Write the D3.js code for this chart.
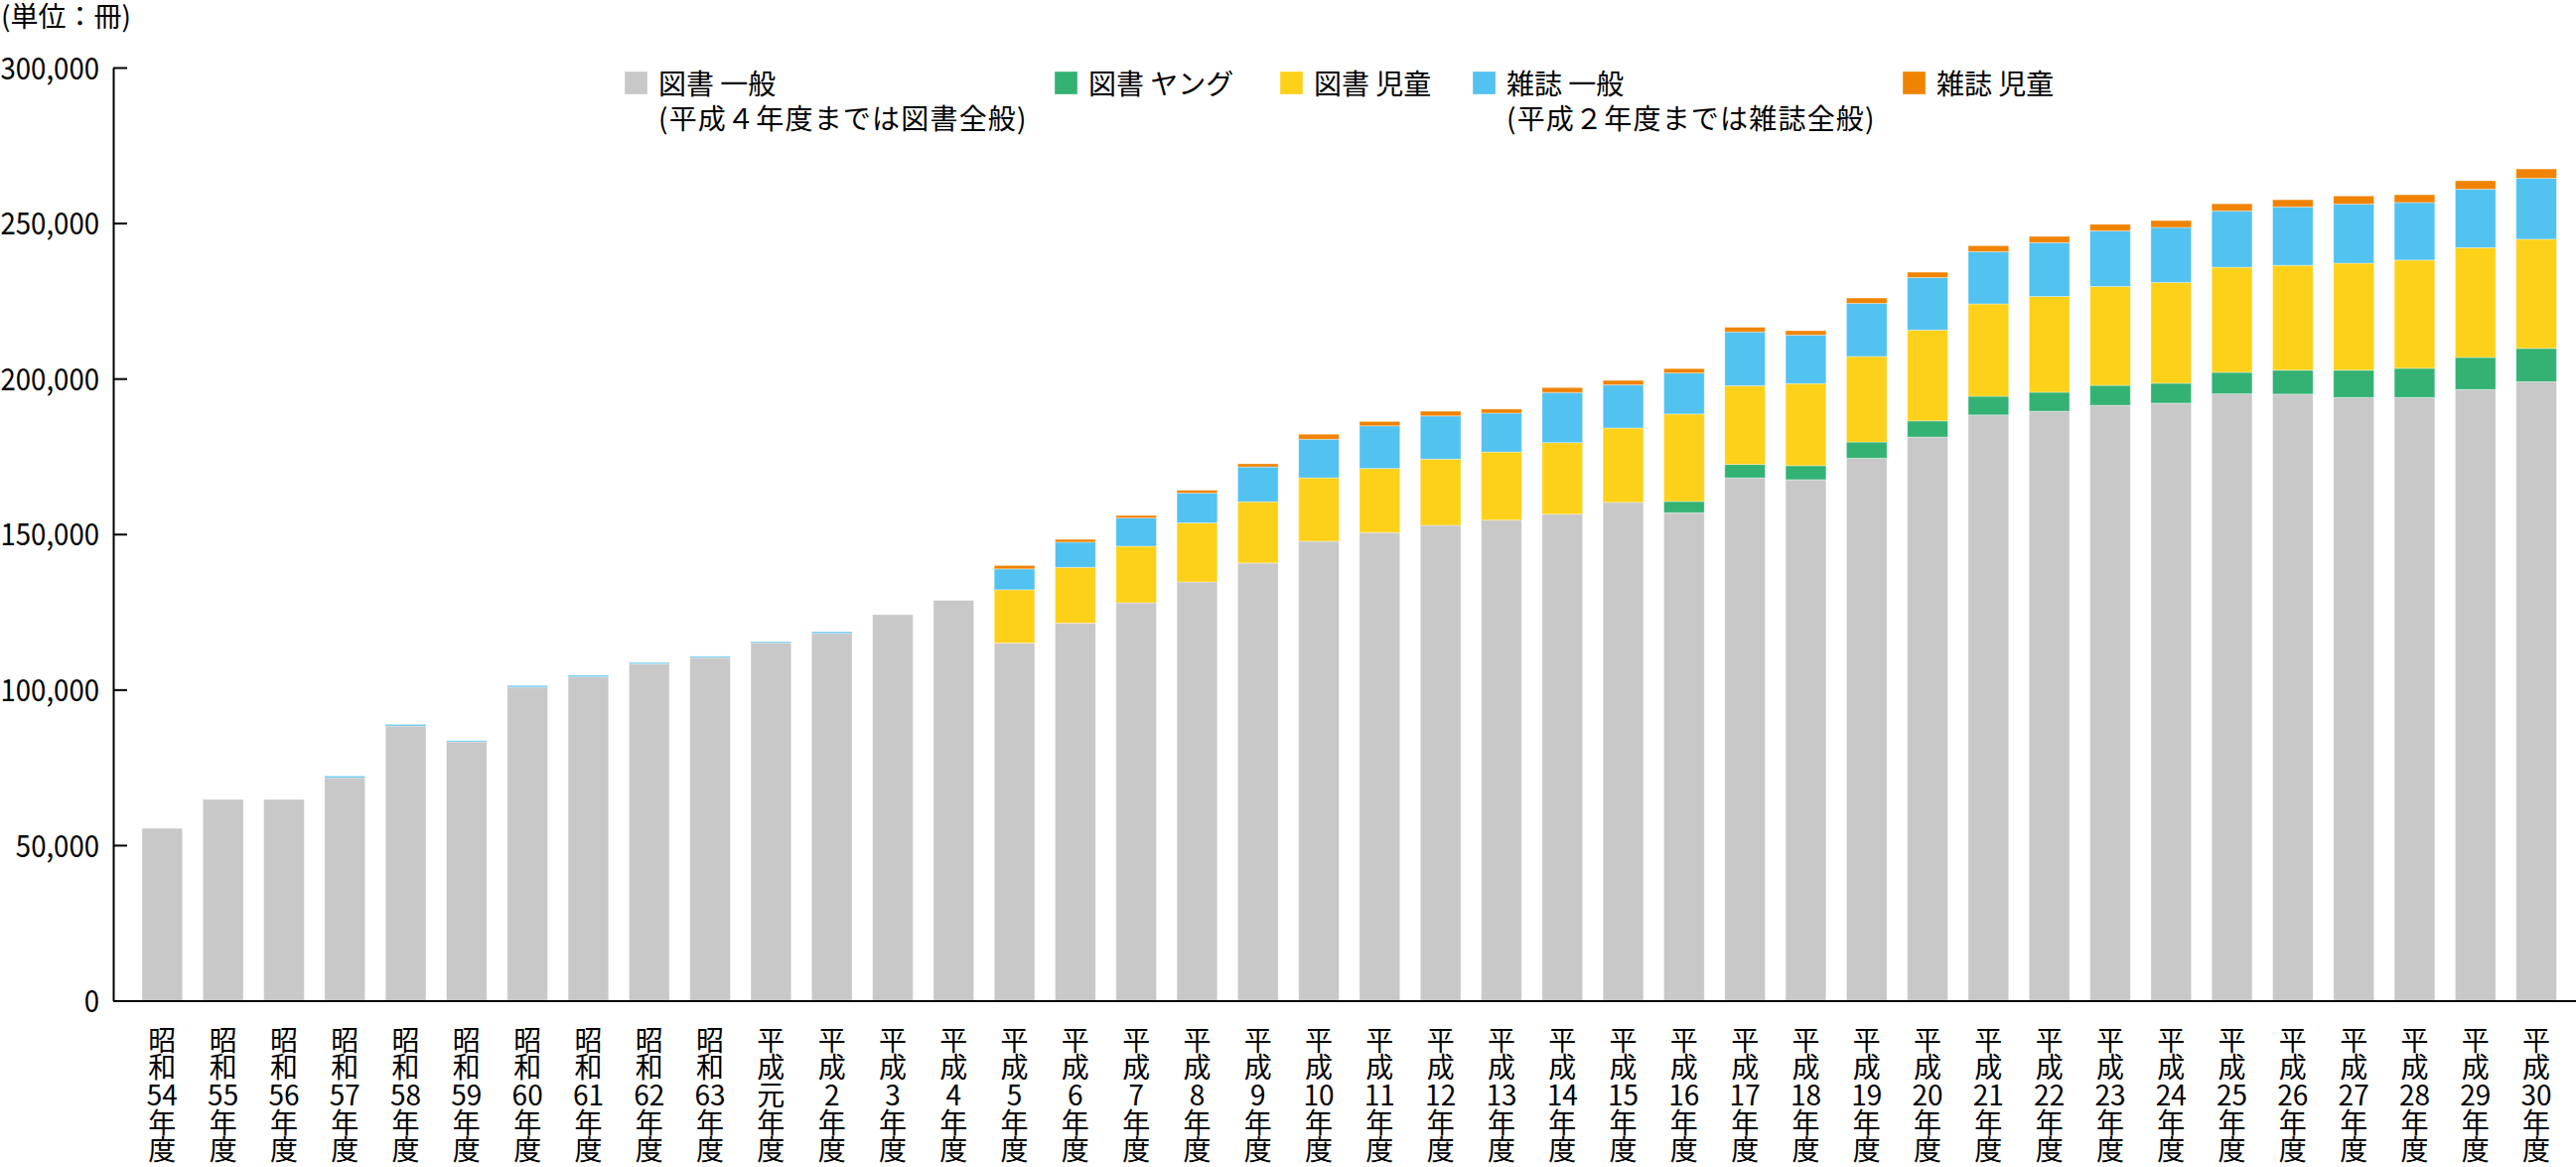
<!DOCTYPE html>
<html>
<head>
<meta charset="utf-8">
<script src="https://cdn.jsdelivr.net/npm/d3@7/dist/d3.min.js"></script>
<style>
body{margin:0;background:#fff;}
text{font-family:"Noto Sans CJK JP",sans-serif;fill:#000;}
</style>
</head>
<body>
<svg id="chart-area" width="2594" height="1175"></svg>
<script>
// 年度
var categories = ['昭和54年度','昭和55年度','昭和56年度','昭和57年度','昭和58年度','昭和59年度','昭和60年度','昭和61年度','昭和62年度','昭和63年度',
  '平成元年度','平成2年度','平成3年度','平成4年度','平成5年度','平成6年度','平成7年度','平成8年度','平成9年度','平成10年度',
  '平成11年度','平成12年度','平成13年度','平成14年度','平成15年度','平成16年度','平成17年度','平成18年度','平成19年度','平成20年度',
  '平成21年度','平成22年度','平成23年度','平成24年度','平成25年度','平成26年度','平成27年度','平成28年度','平成29年度','平成30年度'];

// 図書 一般 (平成4年度までは図書全般)
var toshoIppan = [55400,64700,64700,71700,88300,83200,100800,104100,108300,110300,
  115000,118100,124100,128700,115000,121400,127900,134600,140700,147700,
  150500,152800,154500,156400,160200,156900,168100,167500,174400,181200,
  188300,189500,191400,192100,195100,195000,193900,193900,196500,199000];
// 図書 ヤング
var toshoYoung = [0,0,0,0,0,0,0,0,0,0,
  0,0,0,0,0,0,0,0,0,0,
  0,0,0,0,0,3600,4300,4500,5200,5200,
  6000,6100,6400,6400,6900,7700,8800,9400,10300,10700];
// 図書 児童
var toshoJido = [0,0,0,0,0,0,0,0,0,0,
  0,0,0,0,17100,17900,18200,19000,19700,20400,
  20600,21300,21900,23000,23900,28100,25300,26400,27500,29200,
  29700,30800,31800,32400,33800,33700,34400,34800,35300,35100];
// 雑誌 一般 (平成2年度までは雑誌全般)
var zasshiIppan = [0,0,0,500,500,400,500,500,400,400,
  400,500,0,0,6700,8100,9100,9600,11200,12400,
  13700,13900,12500,16100,13900,13200,17300,15600,17100,16900,
  16800,17300,17900,17700,18100,18800,19000,18500,18800,19600];
// 雑誌 児童
var zasshiJido = [0,0,0,0,0,0,0,0,0,0,
  0,0,0,0,1100,900,800,900,1000,1600,
  1400,1500,1300,1600,1400,1400,1500,1400,1700,1700,
  1900,2000,2100,2200,2300,2300,2600,2500,2700,3000];

var seriesNames = [['図書 一般','(平成４年度までは図書全般)'],['図書 ヤング'],['図書 児童'],['雑誌 一般','(平成２年度までは雑誌全般)'],['雑誌 児童']];
var yTicks = [0,50000,100000,150000,200000,250000,300000];
var unitLabel = '(単位：冊)';

var keys = ['toshoIppan','toshoYoung','toshoJido','zasshiIppan','zasshiJido'];
var colors = ['#c8c8c8','#33b273','#fdd11a','#52c2f0','#f08300'];
var legendX = [629,1062,1289,1483,1916];

var data = categories.map(function(c,i){
    return {cat:c, toshoIppan:toshoIppan[i], toshoYoung:toshoYoung[i], toshoJido:toshoJido[i],
            zasshiIppan:zasshiIppan[i], zasshiJido:zasshiJido[i]};
});

var svgWidth = 2594;
var svgHeight = 1175;
var margin = {left:114,right:0,top:68,bottom:167.5};
var width = svgWidth - margin.left - margin.right;
var height = svgHeight - margin.top - margin.bottom;

var svg = d3.select('#chart-area');
var g = svg.append('g')
           .attr('transform','translate(' + margin.left + ',' + margin.top + ')');

var x = d3.scaleBand()
          .domain(categories)
          .range([0,width])
          .paddingInner(0.336)
          .paddingOuter(0.3965)
          .align(0.597);

var y = d3.scaleLinear()
          .domain([0,300000])
          .range([height,0]);

var layers = d3.stack().keys(keys)(data);

g.selectAll('.layer').data(layers)
 .enter().append('g')
 .attr('class','layer')
 .attr('fill',(d,i)=>colors[i])
 .selectAll('rect').data(d=>d.filter(p=>p[1]>p[0]))
 .enter().append('rect')
 .attr('x',d=>x(d.data.cat))
 .attr('y',d=>y(d[1]))
 .attr('width',x.bandwidth())
 .attr('height',d=>y(d[0])-y(d[1]))
 .attr('stroke','rgba(255,255,255,0.35)')
 .attr('stroke-width',1);

// y axis
var yAxis = d3.axisLeft(y)
              .tickValues(yTicks)
              .tickSize(-14)
              .tickSizeOuter(0)
              .tickPadding(14)
              .tickFormat(d3.format(','));

var ya = g.append('g')
          .attr('class','y axis')
          .call(yAxis);
ya.attr('font-size',31).attr('font-family','"Noto Sans CJK JP",sans-serif');
ya.select('.domain').attr('stroke-width',2);
ya.selectAll('line').attr('stroke-width',2);
ya.selectAll('text')
  .attr('x',-14/0.89)
  .attr('dy','0.36em')
  .attr('transform','scale(0.89,1)');

// x axis
var xa = g.append('g')
          .attr('class','x axis')
          .attr('transform','translate(0,' + height + ')')
          .call(d3.axisBottom(x).tickSize(0).tickSizeOuter(0).tickFormat(''));
xa.select('.domain').attr('stroke-width',2);

// vertical category labels
var labels = g.selectAll('.xlab').data(categories)
              .enter().append('text')
              .attr('class','xlab')
              .attr('font-size',28)
              .attr('text-anchor','middle')
              .attr('y',height + 50);

labels.each(function(c){
    var cx = x(c) + x.bandwidth()/2;
    var lines = [c.slice(0,1), c.slice(1,2), c.slice(2,c.length-2), '年', '度'];
    d3.select(this).selectAll('tspan').data(lines)
      .enter().append('tspan')
      .attr('x',cx)
      .attr('dy',(d,i)=> i==0 ? 0 : 27.7)
      .text(d=>d);
});

// unit
svg.append('text')
   .attr('x',1)
   .attr('y',26.5)
   .attr('font-size',28)
   .text(unitLabel);

// legend
var legend = svg.selectAll('.legend').data(seriesNames)
                .enter().append('g')
                .attr('class','legend')
                .attr('transform',(d,i)=>'translate(' + legendX[i] + ',0)');

legend.append('rect')
      .attr('x',0)
      .attr('y',72)
      .attr('width',23)
      .attr('height',23)
      .attr('fill',(d,i)=>colors[i])
      .attr('stroke','rgba(255,255,255,0.35)');

legend.append('text')
      .attr('font-size',28)
      .selectAll('tspan').data(d=>d)
      .enter().append('tspan')
      .attr('x',34)
      .attr('y',(d,i)=> i==0 ? 95 : 129.5)
      .attr('letter-spacing',(d,i)=> i==0 ? 0 : 1.2)
      .text(d=>d);
</script>
</body>
</html>
